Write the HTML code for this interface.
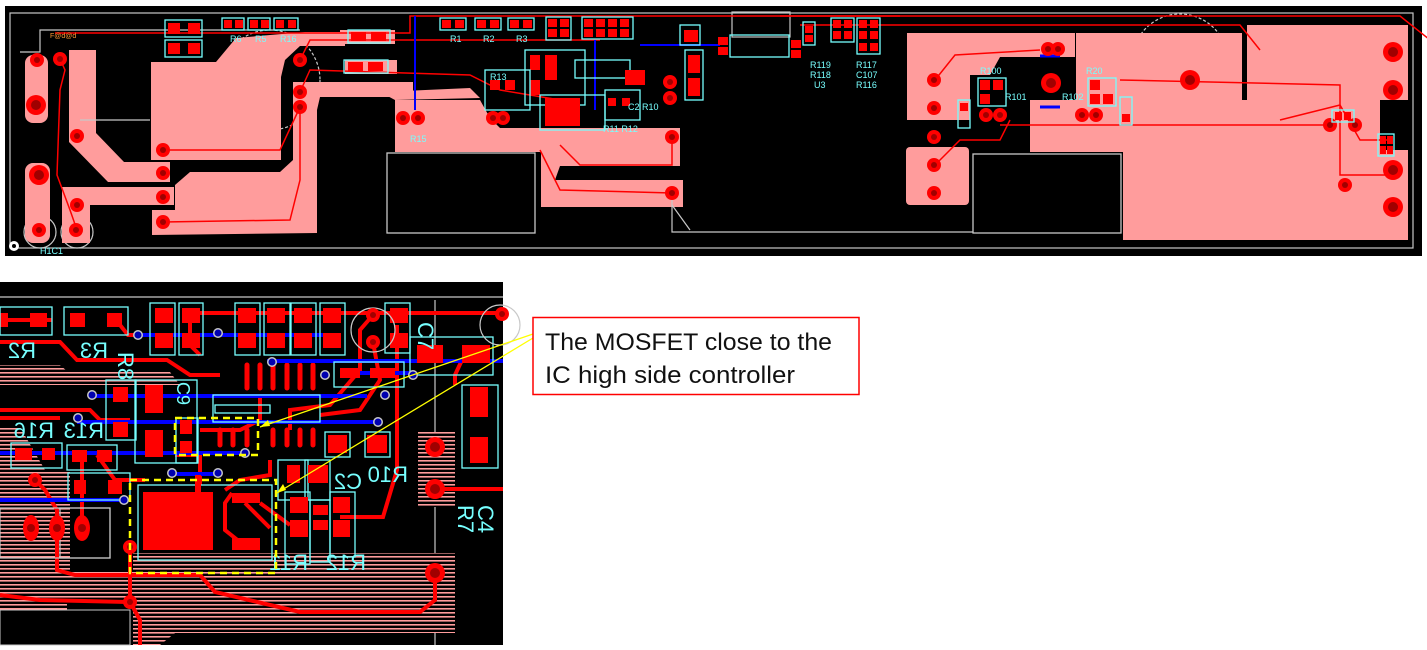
<!DOCTYPE html>
<html><head><meta charset="utf-8"><style>
html,body{margin:0;padding:0;background:#fff;width:1427px;height:650px;overflow:hidden}
svg{display:block}
.cy{fill:none;stroke:#7ff;stroke-width:1.3}
.gr{fill:none;stroke:#c8c8c8;stroke-width:1.2}
.pk{fill:#ff9c9c}
.rd{fill:#f00}
.tr{fill:none;stroke:#f00;stroke-width:1.5}
.tt{fill:none;stroke:#f00;stroke-width:4}
.bl{fill:none;stroke:#00f;stroke-width:4}
.lb{fill:#7ff;font-family:"Liberation Sans",sans-serif}
</style></head><body>
<svg width="1427" height="650" viewBox="0 0 1427 650" xmlns="http://www.w3.org/2000/svg">
<defs>
<pattern id="hat" width="6" height="4" patternUnits="userSpaceOnUse"><rect width="6" height="4" fill="#000"/><rect width="6" height="1.6" fill="#ff9c9c"/></pattern>
<g id="pad"><circle r="7" fill="#f00"/><circle r="3" fill="#a00000"/></g>
<g id="bpad"><circle r="10" fill="#f00"/><circle r="5" fill="#a00000"/></g>
<g id="via"><circle r="5" fill="#c8c8c8"/><circle r="3.5" fill="#0000b0"/></g>
</defs>

<!-- ============ TOP STRIP ============ -->
<rect x="5" y="6" width="1417" height="250" fill="#000"/>
<rect x="10" y="13" width="1403" height="235" class="gr"/>
<circle cx="270" cy="80" r="50" class="gr" stroke-dasharray="3 2"/>
<circle cx="1180" cy="62" r="48" class="gr" stroke-dasharray="3 2"/>
<circle cx="40" cy="232" r="16" class="gr"/><circle cx="77" cy="232" r="16" class="gr"/>

<!-- pink copper left -->
<rect x="25" y="55" width="23" height="68" rx="8" class="pk"/>
<polygon class="pk" points="69,50 96,50 96,133 124,162 170,162 170,182 108,182 69,142"/>
<rect x="25" y="163" width="25" height="80" rx="8" class="pk"/>
<polygon class="pk" points="62,187 174,187 174,205 90,205 90,243 62,243"/>
<polygon class="pk" points="151,62 216,62 236,38 305,32 345,32 345,46 300,46 285,60 281,77 281,160 151,160"/>
<polygon class="pk" points="152,235 152,210 175,210 175,185 190,172 280,172 293,160 293,82 413,82 413,97 320,97 317,110 317,233"/>
<rect x="340" y="30" width="55" height="14" class="pk"/>
<rect x="345" y="60" width="52" height="14" class="pk"/>
<polygon class="pk" points="395,100 480,100 490,118 500,128 680,128 680,166 560,166 555,180 683,180 683,207 541,207 541,152 500,152 395,152"/>
<polygon class="pk" points="380,92 470,88 480,98 395,100"/>

<!-- pink copper right -->
<polygon class="pk" points="907,33 1075,33 1075,57 1000,57 990,75 970,75 970,120 907,120"/>
<rect x="906" y="147" width="63" height="58" rx="4" class="pk"/>
<polygon class="pk" points="1076,33 1242,33 1242,107 1076,107"/>
<polygon class="pk" points="1247,25 1408,25 1408,100 1380,100 1380,150 1408,150 1408,240 1123,240 1123,152 1030,152 1030,100 1247,100"/>
<rect x="1030" y="100" width="95" height="52" class="pk"/>

<!-- black boxes -->
<rect x="387" y="153" width="148" height="80" fill="#000" stroke="#c8c8c8" stroke-width="1.3"/>
<rect x="973" y="154" width="148" height="79" fill="#000" stroke="#c8c8c8" stroke-width="1.3"/>
<polyline class="gr" points="672,195 672,232 973,232"/>
<line x1="672" y1="205" x2="690" y2="230" class="gr"/>
<rect x="732" y="12" width="58" height="25" class="gr"/>
<polyline class="gr" points="20,52 40,52 40,30 300,30"/>
<line x1="80" y1="120" x2="150" y2="120" class="gr"/>

<!-- traces top -->
<polyline class="tr" points="55,33 410,33 410,16 900,16"/>
<polyline class="tr" points="60,59 65,70 60,90 57,175 70,210 77,230"/>
<polyline class="tr" points="300,60 310,40 600,40"/>
<polyline class="tr" points="300,92 310,70 470,75 500,90 560,100"/>
<polyline class="tr" points="300,107 280,150 163,150"/>
<polyline class="tr" points="163,222 290,220 300,180 300,107"/>
<polyline class="tr" points="560,145 580,165 672,165 672,137"/>
<polyline class="tr" points="540,150 560,190 672,193"/>
<polyline class="tr" points="780,16 1400,16 1430,40"/>
<polyline class="tr" points="800,25 1240,25 1260,50"/>
<polyline class="tr" points="935,80 955,55 1040,50"/>
<polyline class="tr" points="935,165 960,140 1000,140 1010,120"/>
<polyline class="tr" points="1120,80 1340,85 1340,175 1390,175"/>
<polyline class="tr" points="1000,125 1330,125 1335,130"/>
<polyline class="tr" points="1280,120 1340,105 1360,140 1390,140"/>
<line x1="595" y1="40" x2="595" y2="110" stroke="#00f" stroke-width="2"/>
<line x1="415" y1="16" x2="415" y2="110" stroke="#00f" stroke-width="2"/>
<line x1="640" y1="45" x2="720" y2="45" stroke="#00f" stroke-width="2"/>
<line x1="1040" y1="56" x2="1060" y2="56" stroke="#00f" stroke-width="3"/>
<line x1="1040" y1="107" x2="1060" y2="107" stroke="#00f" stroke-width="3"/>

<!-- top pads -->
<use href="#pad" x="37" y="60"/><use href="#bpad" x="36" y="105"/><use href="#bpad" x="39" y="175"/><use href="#pad" x="39" y="230"/>
<use href="#pad" x="60" y="59"/><use href="#pad" x="77" y="136"/><use href="#pad" x="77" y="205"/><use href="#pad" x="76" y="230"/>
<use href="#pad" x="163" y="150"/><use href="#pad" x="163" y="173"/><use href="#pad" x="163" y="197"/><use href="#pad" x="163" y="222"/>
<use href="#pad" x="300" y="60"/><use href="#pad" x="300" y="92"/><use href="#pad" x="300" y="107"/>
<use href="#pad" x="672" y="137"/><use href="#pad" x="672" y="193"/><use href="#pad" x="670" y="82"/><use href="#pad" x="670" y="98"/>
<use href="#pad" x="403" y="118"/><use href="#pad" x="418" y="118"/><use href="#pad" x="493" y="118"/><use href="#pad" x="503" y="118"/>
<use href="#pad" x="934" y="80"/><use href="#pad" x="934" y="108"/><use href="#pad" x="934" y="137"/><use href="#pad" x="934" y="165"/><use href="#pad" x="934" y="193"/>
<use href="#bpad" x="1051" y="83"/><use href="#bpad" x="1190" y="80"/>
<use href="#bpad" x="1393" y="52"/><use href="#bpad" x="1393" y="90"/><use href="#bpad" x="1393" y="170"/><use href="#bpad" x="1393" y="207"/>
<use href="#pad" x="1048" y="49"/><use href="#pad" x="1058" y="49"/>
<use href="#pad" x="986" y="115"/><use href="#pad" x="1000" y="115"/><use href="#pad" x="1082" y="115"/><use href="#pad" x="1096" y="115"/>
<use href="#pad" x="1330" y="125"/><use href="#pad" x="1355" y="125"/><use href="#pad" x="1345" y="185"/>

<!-- top components -->
<g>
<rect x="165" y="20" width="37" height="17" class="cy"/><rect x="168" y="23" width="12" height="11" class="rd"/><rect x="188" y="23" width="12" height="11" class="rd"/>
<rect x="165" y="40" width="37" height="17" class="cy"/><rect x="168" y="43" width="12" height="11" class="rd"/><rect x="188" y="43" width="12" height="11" class="rd"/>
<rect x="222" y="18" width="22" height="12" class="cy"/><rect x="224" y="20" width="8" height="8" class="rd"/><rect x="235" y="20" width="8" height="8" class="rd"/>
<rect x="248" y="18" width="22" height="12" class="cy"/><rect x="250" y="20" width="8" height="8" class="rd"/><rect x="261" y="20" width="8" height="8" class="rd"/>
<rect x="274" y="18" width="24" height="12" class="cy"/><rect x="276" y="20" width="8" height="8" class="rd"/><rect x="288" y="20" width="8" height="8" class="rd"/>
<rect x="348" y="30" width="42" height="13" class="cy"/><rect x="351" y="32" width="15" height="9" class="rd"/><rect x="371" y="32" width="15" height="9" class="rd"/>
<rect x="344" y="60" width="44" height="13" class="cy"/><rect x="348" y="62" width="15" height="9" class="rd"/><rect x="368" y="62" width="15" height="9" class="rd"/>
<rect x="440" y="18" width="26" height="12" class="cy"/><rect x="442" y="20" width="9" height="8" class="rd"/><rect x="455" y="20" width="9" height="8" class="rd"/>
<rect x="475" y="18" width="26" height="12" class="cy"/><rect x="477" y="20" width="9" height="8" class="rd"/><rect x="490" y="20" width="9" height="8" class="rd"/>
<rect x="508" y="18" width="26" height="12" class="cy"/><rect x="510" y="20" width="9" height="8" class="rd"/><rect x="523" y="20" width="9" height="8" class="rd"/>
<rect x="546" y="17" width="25" height="23" class="cy"/><rect x="548" y="19" width="9" height="8" class="rd"/><rect x="560" y="19" width="9" height="8" class="rd"/><rect x="548" y="29" width="9" height="8" class="rd"/><rect x="560" y="29" width="9" height="8" class="rd"/>
<rect x="582" y="17" width="51" height="22" class="cy"/>
<rect x="584" y="19" width="9" height="8" class="rd"/><rect x="596" y="19" width="9" height="8" class="rd"/><rect x="608" y="19" width="9" height="8" class="rd"/><rect x="620" y="19" width="9" height="8" class="rd"/>
<rect x="584" y="29" width="9" height="8" class="rd"/><rect x="596" y="29" width="9" height="8" class="rd"/><rect x="608" y="29" width="9" height="8" class="rd"/><rect x="620" y="29" width="9" height="8" class="rd"/>
<rect x="525" y="50" width="60" height="55" class="cy"/><rect x="530" y="55" width="10" height="15" class="rd"/><rect x="545" y="55" width="12" height="25" class="rd"/><rect x="530" y="80" width="10" height="15" class="rd"/>
<rect x="545" y="98" width="35" height="28" class="rd"/><rect x="540" y="95" width="65" height="35" class="cy"/>
<rect x="575" y="60" width="55" height="18" class="cy"/>
<rect x="605" y="90" width="35" height="30" class="cy"/><rect x="608" y="98" width="8" height="8" class="rd"/><rect x="622" y="98" width="8" height="8" class="rd"/>
<rect x="625" y="70" width="20" height="15" class="rd"/>
<rect x="485" y="70" width="45" height="40" class="cy"/><rect x="490" y="80" width="10" height="10" class="rd"/><rect x="505" y="80" width="10" height="10" class="rd"/>
<rect x="680" y="25" width="20" height="20" class="cy"/><rect x="684" y="30" width="14" height="12" class="rd"/>
<rect x="685" y="50" width="18" height="50" class="cy"/><rect x="688" y="55" width="12" height="18" class="rd"/><rect x="688" y="78" width="12" height="18" class="rd"/>
<rect x="730" y="35" width="59" height="22" class="cy"/><rect x="718" y="37" width="10" height="8" class="rd"/><rect x="718" y="47" width="10" height="8" class="rd"/>
<rect x="791" y="40" width="10" height="8" class="rd"/><rect x="791" y="50" width="10" height="8" class="rd"/>
<rect x="803" y="22" width="12" height="23" class="cy"/><rect x="805" y="26" width="8" height="7" class="rd"/><rect x="805" y="35" width="8" height="7" class="rd"/>
<rect x="831" y="18" width="23" height="24" class="cy"/><rect x="833" y="20" width="8" height="8" class="rd"/><rect x="844" y="20" width="8" height="8" class="rd"/><rect x="833" y="31" width="8" height="8" class="rd"/><rect x="844" y="31" width="8" height="8" class="rd"/>
<rect x="857" y="18" width="23" height="36" class="cy"/><rect x="859" y="20" width="8" height="8" class="rd"/><rect x="870" y="20" width="8" height="8" class="rd"/><rect x="859" y="31" width="8" height="8" class="rd"/><rect x="870" y="31" width="8" height="8" class="rd"/><rect x="859" y="43" width="8" height="8" class="rd"/><rect x="870" y="43" width="8" height="8" class="rd"/>
<rect x="978" y="78" width="28" height="28" class="cy"/><rect x="980" y="80" width="10" height="10" class="rd"/><rect x="980" y="94" width="10" height="10" class="rd"/><rect x="993" y="80" width="10" height="10" class="rd"/>
<rect x="958" y="100" width="12" height="28" class="cy"/><rect x="960" y="103" width="8" height="8" class="rd"/>
<rect x="1088" y="78" width="28" height="28" class="cy"/><rect x="1090" y="80" width="10" height="10" class="rd"/><rect x="1090" y="94" width="10" height="10" class="rd"/><rect x="1103" y="94" width="10" height="10" class="rd"/>
<rect x="1120" y="97" width="12" height="28" class="cy"/><rect x="1122" y="114" width="8" height="8" class="rd"/>
<rect x="1332" y="110" width="22" height="12" class="cy"/><rect x="1335" y="112" width="7" height="8" class="rd"/><rect x="1344" y="112" width="7" height="8" class="rd"/>
<rect x="1378" y="134" width="16" height="22" class="cy"/><rect x="1380" y="136" width="6" height="8" class="rd"/><rect x="1387" y="136" width="6" height="8" class="rd"/><rect x="1380" y="146" width="6" height="8" class="rd"/><rect x="1387" y="146" width="6" height="8" class="rd"/>
</g>
<g class="lb" font-size="9">
<text x="230" y="42">R6</text><text x="255" y="42">R5</text><text x="280" y="42">R16</text>
<text x="450" y="42">R1</text><text x="483" y="42">R2</text><text x="516" y="42">R3</text>
<text x="490" y="80">R13</text><text x="603" y="132">R11 R12</text><text x="628" y="110">C2 R10</text>
<text x="410" y="142">R15</text><text x="810" y="68">R119</text><text x="810" y="78">R118</text><text x="814" y="88">U3</text>
<text x="856" y="68">R117</text><text x="856" y="78">C107</text><text x="856" y="88">R116</text>
<text x="980" y="74">R100</text><text x="1086" y="74">R20</text><text x="1005" y="100">R101</text><text x="1062" y="100">R102</text>
<text x="40" y="254">H1C1</text>
</g>
<text x="50" y="38" fill="#ff9933" font-size="7" font-family="Liberation Sans,sans-serif">F@d@d</text>
<circle cx="14" cy="246" r="5" fill="#fff"/><circle cx="14" cy="246" r="2" fill="#000"/>

<!-- ============ BOTTOM IMAGE ============ -->
<rect x="0" y="282" width="503" height="363" fill="#000"/>
<line x1="0" y1="297" x2="503" y2="297" class="gr"/>
<line x1="435" y1="300" x2="435" y2="645" class="gr"/>
<!-- hatched copper -->
<polygon fill="url(#hat)" points="0,427 20,427 45,470 60,500 67,540 67,645 0,645"/>
<polygon fill="url(#hat)" points="133,553 455,553 455,633 175,633 160,645 133,645"/>
<polygon fill="url(#hat)" points="0,365 60,365 75,378 0,378"/>
<polygon fill="url(#hat)" points="0,372 170,372 180,385 0,385"/>
<rect x="418" y="432" width="37" height="75" fill="url(#hat)"/>
<polygon fill="url(#hat)" points="45,470 70,470 70,570 150,570 160,600 45,600"/>
<rect x="0" y="610" width="130" height="35" fill="#000" stroke="#c8c8c8"/>
<!-- red traces -->
<polyline class="tt" points="187,313 503,313"/>
<polyline class="tt" points="0,320 52,320"/>
<polyline class="tt" points="0,342 60,342 77,360 167,360 190,375 220,375"/>
<polyline class="tt" points="120,325 128,335 135,335"/>
<polyline class="tt" points="0,418 60,418"/>
<polyline class="tt" points="0,410 90,410 100,420 130,420"/>
<polyline class="tt" points="35,480 45,490 57,510 57,528"/>
<polyline class="tt" points="57,528 57,570 75,575 200,575 215,592 300,612 420,612 435,600 435,573"/>
<polyline class="tt" points="130,547 130,602 140,620 140,645"/>
<polyline class="tt" points="130,602 40,600 0,595"/>
<polyline class="tt" points="82,455 82,528"/>
<polyline class="tt" points="97,455 115,480 145,480"/>
<polyline class="tt" points="373,315 360,330 360,370 330,405 290,410 290,430"/>
<polyline class="tt" points="373,342 380,380 360,410 320,415"/>
<polyline class="tt" points="397,325 397,470 383,517 340,517"/>
<polyline class="tt" points="435,489 503,489"/>
<polyline class="tt" points="462,360 455,375 455,385"/>
<polyline class="tt" points="200,430 240,430 260,420 260,395"/>
<polyline class="tt" points="175,455 200,455 200,485"/>
<polyline class="tt" points="270,460 270,475 240,480 225,490"/>
<polyline class="tt" points="260,503 290,525"/>
<polyline class="tt" points="190,320 190,345 200,355"/>
<!-- IC pins -->
<g stroke="#f00" stroke-width="5" stroke-linecap="round">
<line x1="247" y1="365" x2="247" y2="388"/><line x1="260" y1="365" x2="260" y2="388"/><line x1="273" y1="365" x2="273" y2="388"/><line x1="287" y1="365" x2="287" y2="388"/><line x1="300" y1="365" x2="300" y2="388"/><line x1="313" y1="365" x2="313" y2="388"/>
<line x1="220" y1="430" x2="220" y2="445"/><line x1="233" y1="430" x2="233" y2="445"/><line x1="247" y1="430" x2="247" y2="445"/><line x1="273" y1="430" x2="273" y2="445"/><line x1="287" y1="430" x2="287" y2="445"/><line x1="300" y1="430" x2="300" y2="445"/><line x1="313" y1="430" x2="313" y2="445"/>
</g>
<!-- blue traces -->
<polyline class="bl" points="138,335 333,335"/>
<polyline class="bl" points="267,361 503,361"/>
<polyline class="bl" points="340,373 413,373"/>
<polyline class="bl" points="90,396 367,396"/>
<polyline class="bl" points="77,422 377,422"/>
<polyline class="bl" points="0,453 247,453"/>
<polyline class="bl" points="170,474 220,474"/>
<polyline class="bl" points="0,500 125,500"/>
<!-- pads top row -->
<rect x="0" y="313" width="8" height="14" class="rd"/><rect x="30" y="313" width="17" height="14" class="rd"/><rect x="70" y="313" width="15" height="14" class="rd"/><rect x="107" y="313" width="15" height="14" class="rd"/>
<rect x="0" y="307" width="52" height="28" class="cy"/><rect x="64" y="307" width="64" height="28" class="cy"/>
<g>
<rect x="150" y="303" width="25" height="52" class="cy"/><rect x="179" y="303" width="24" height="52" class="cy"/>
<rect x="235" y="303" width="25" height="52" class="cy"/><rect x="264" y="303" width="26" height="52" class="cy"/><rect x="291" y="303" width="25" height="52" class="cy"/><rect x="320" y="303" width="25" height="52" class="cy"/>
<rect x="155" y="308" width="18" height="15" class="rd"/><rect x="182" y="308" width="18" height="15" class="rd"/><rect x="155" y="333" width="18" height="15" class="rd"/><rect x="182" y="333" width="18" height="15" class="rd"/>
<rect x="238" y="308" width="18" height="15" class="rd"/><rect x="267" y="308" width="18" height="15" class="rd"/><rect x="294" y="308" width="18" height="15" class="rd"/><rect x="323" y="308" width="18" height="15" class="rd"/>
<rect x="238" y="333" width="18" height="15" class="rd"/><rect x="267" y="333" width="18" height="15" class="rd"/><rect x="294" y="333" width="18" height="15" class="rd"/><rect x="323" y="333" width="18" height="15" class="rd"/>
</g>
<!-- left components -->
<rect x="135" y="380" width="62" height="83" class="cy"/>
<rect x="145" y="385" width="18" height="28" class="rd"/><rect x="145" y="430" width="18" height="27" class="rd"/>
<rect x="106" y="380" width="30" height="60" class="cy"/>
<rect x="113" y="387" width="15" height="15" class="rd"/><rect x="113" y="422" width="15" height="15" class="rd"/>
<rect x="176" y="418" width="22" height="45" class="cy"/><rect x="180" y="420" width="12" height="14" class="rd"/><rect x="180" y="441" width="12" height="12" class="rd"/>
<rect x="11" y="443" width="51" height="25" class="cy"/><rect x="15" y="448" width="17" height="12" class="rd"/><rect x="42" y="448" width="13" height="12" class="rd"/>
<rect x="67" y="445" width="50" height="25" class="cy"/><rect x="72" y="450" width="15" height="12" class="rd"/><rect x="97" y="450" width="15" height="12" class="rd"/>
<rect x="68" y="473" width="62" height="27" class="cy"/><rect x="74" y="480" width="12" height="14" class="rd"/><rect x="108" y="480" width="14" height="14" class="rd"/>
<rect x="60" y="508" width="50" height="50" class="gr"/>
<rect x="0" y="508" width="110" height="50" class="gr"/>
<ellipse cx="31" cy="528" rx="8" ry="13" fill="#f00"/><circle cx="31" cy="528" r="4" fill="#a00000"/>
<ellipse cx="57" cy="528" rx="8" ry="13" fill="#f00"/><circle cx="57" cy="528" r="4" fill="#a00000"/>
<ellipse cx="82" cy="528" rx="8" ry="13" fill="#f00"/><circle cx="82" cy="528" r="4" fill="#a00000"/>
<use href="#pad" x="35" y="480"/>
<!-- IC outline -->
<rect x="213" y="395" width="107" height="27" class="cy"/>
<rect x="215" y="405" width="55" height="8" fill="none" stroke="#7ff" stroke-width="1.3"/>
<!-- MOSFET -->
<rect x="138" y="485" width="134" height="75" class="cy"/>
<rect x="143" y="492" width="70" height="58" class="rd"/>
<rect x="195" y="475" width="6" height="20" class="rd"/>
<rect x="232" y="493" width="28" height="10" class="rd"/><rect x="232" y="538" width="28" height="12" class="rd"/>
<polyline points="232,493 225,503 225,530 240,542" fill="none" stroke="#f00" stroke-width="4"/>
<line x1="245" y1="503" x2="270" y2="528" stroke="#f00" stroke-width="4"/>
<use href="#pad" x="130" y="547"/>
<!-- right side -->
<rect x="278" y="460" width="30" height="40" class="cy"/><rect x="287" y="465" width="13" height="18" class="rd"/>
<rect x="305" y="460" width="25" height="40" class="cy"/><rect x="308" y="465" width="20" height="18" class="rd"/>
<rect x="325" y="432" width="25" height="25" class="cy"/><rect x="328" y="435" width="19" height="18" class="rd"/>
<rect x="365" y="432" width="25" height="25" class="cy"/><rect x="367" y="435" width="20" height="18" class="rd"/>
<rect x="285" y="492" width="25" height="72" class="cy"/><rect x="310" y="500" width="20" height="62" class="cy"/><rect x="330" y="492" width="25" height="65" class="cy"/>
<rect x="290" y="497" width="18" height="16" class="rd"/><rect x="290" y="520" width="18" height="17" class="rd"/>
<rect x="313" y="505" width="15" height="10" class="rd"/><rect x="313" y="520" width="15" height="10" class="rd"/>
<rect x="333" y="497" width="17" height="16" class="rd"/><rect x="333" y="520" width="17" height="17" class="rd"/>
<rect x="385" y="303" width="25" height="50" class="cy"/><rect x="390" y="308" width="18" height="15" class="rd"/><rect x="390" y="333" width="18" height="15" class="rd"/>
<rect x="410" y="337" width="83" height="38" class="cy"/>
<rect x="417" y="345" width="26" height="18" class="rd"/><rect x="462" y="345" width="28" height="18" class="rd"/>
<rect x="462" y="385" width="36" height="83" class="cy"/>
<rect x="470" y="387" width="18" height="30" class="rd"/><rect x="470" y="437" width="18" height="26" class="rd"/>
<rect x="334" y="362" width="70" height="25" class="cy"/>
<rect x="340" y="368" width="20" height="10" class="rd"/><rect x="370" y="368" width="25" height="10" class="rd"/>
<circle cx="373" cy="330" r="22" class="gr"/><circle cx="500" cy="325" r="20" class="gr"/>
<use href="#pad" x="373" y="315"/><use href="#pad" x="373" y="342"/><use href="#pad" x="502" y="314"/>
<use href="#bpad" x="435" y="447"/><use href="#bpad" x="435" y="489"/><use href="#bpad" x="435" y="573"/>
<use href="#pad" x="130" y="602"/>
<!-- vias -->
<use href="#via" x="138" y="335"/><use href="#via" x="218" y="333"/><use href="#via" x="92" y="395"/><use href="#via" x="78" y="418"/>
<use href="#via" x="272" y="362"/><use href="#via" x="325" y="375"/><use href="#via" x="385" y="395"/><use href="#via" x="378" y="422"/>
<use href="#via" x="245" y="453"/><use href="#via" x="172" y="473"/><use href="#via" x="218" y="473"/><use href="#via" x="124" y="500"/><use href="#via" x="413" y="375"/>
<!-- mirrored labels -->
<g class="lb" font-size="22">
<text transform="translate(36,358) scale(-1,1)">R2</text>
<text transform="translate(108,358) scale(-1,1)">R3</text>
<text transform="translate(54,438) scale(-1,1)">R16</text>
<text transform="translate(104,438) scale(-1,1)">R13</text>
<text transform="translate(362,489) scale(-1,1)">C2</text>
<text transform="translate(408,482) scale(-1,1)">R10</text>
<text transform="translate(308,570) scale(-1,1)">R11</text>
<text transform="translate(366,570) scale(-1,1)">R12</text>
<text transform="translate(478,505) rotate(90)">C4</text>
<text transform="translate(458,505) rotate(90)">R7</text>
<text transform="translate(418,322) rotate(90)">C7</text>
<text transform="translate(118,352) rotate(90)">R8</text>
<text transform="translate(177,382) rotate(90)" font-size="18">C9</text>
</g>
<!-- yellow dashed boxes -->
<rect x="175" y="418" width="83" height="37" fill="none" stroke="#ff0" stroke-width="2.5" stroke-dasharray="7 5"/>
<rect x="130" y="480" width="146" height="93" fill="none" stroke="#ff0" stroke-width="2.5" stroke-dasharray="7 5"/>
<!-- leader lines -->
<line x1="533" y1="334" x2="260" y2="427" stroke="#ff0" stroke-width="1.3"/>
<line x1="533" y1="338" x2="277" y2="493" stroke="#ff0" stroke-width="1.3"/>
<polygon points="260,427 268,420 270,426" fill="#ff0"/>
<polygon points="277,493 283,484 286,490" fill="#ff0"/>
<!-- callout -->
<rect x="533" y="317.5" width="326" height="77" fill="#fff" stroke="#f00" stroke-width="1.5"/>
<text x="545" y="350" font-family="Liberation Sans, sans-serif" font-size="24" fill="#111" textLength="287" lengthAdjust="spacingAndGlyphs">The MOSFET close to the</text>
<text x="545" y="383" font-family="Liberation Sans, sans-serif" font-size="24" fill="#111" textLength="250" lengthAdjust="spacingAndGlyphs">IC high side controller</text>
</svg>
</body></html>
